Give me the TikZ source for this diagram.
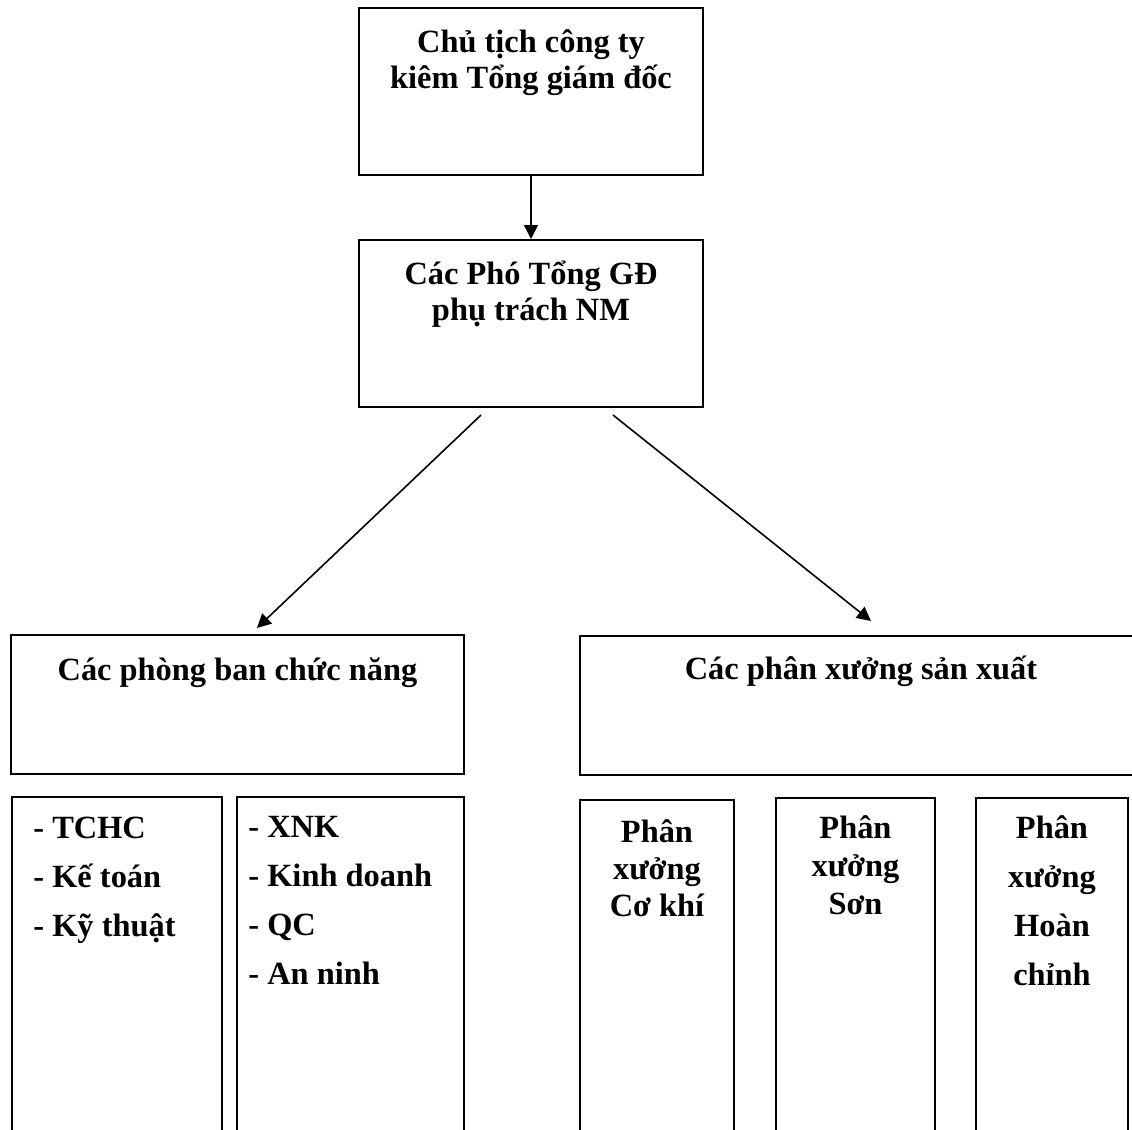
\documentclass[tikz,border=0pt]{standalone}
\usepackage{fontspec}
\setmainfont{Liberation Serif}
\usetikzlibrary{arrows.meta}
\tikzset{
	% ---- default
	every node/.style={font=\fontsize{16.2}{18}\selectfont\bfseries},
	% ---- custom
	box/.style={draw, line width=1pt, anchor=north west, inner sep=0pt},
	title/.style={align=center, anchor=base, inner sep=0pt},
	item/.style={anchor=base west, inner sep=0pt},
	link/.style={-{Triangle[length=7pt, width=7pt]}, line width=0.8pt},
}

\begin{document}
\begin{tikzpicture}[x=0.5pt, y=-0.5pt]

% frame %{{{2

	\useasboundingbox (0,0) rectangle (1132,1130);
	\clip (0,0) rectangle (1132,1130);

% boxes %{{{2

	\node[box, minimum width=172pt, minimum height=83.5pt] (chu) at (358,7) {};
	\node[box, minimum width=172pt, minimum height=83.5pt] (pho) at (358,239) {};

	\node[box, minimum width=226.5pt, minimum height=69.5pt] (phong) at (10,634) {};
	\node[box, minimum width=281pt, minimum height=69.5pt] (xuong) at (579,635) {};

% columns %{{{3

	\node[box, minimum width=105pt, minimum height=180pt] (ban1) at (11,796) {};
	\node[box, minimum width=113.5pt, minimum height=180pt] (ban2) at (236,796) {};

	\node[box, minimum width=77pt, minimum height=180pt] (px1) at (579,799) {};
	\node[box, minimum width=79.5pt, minimum height=180pt] (px2) at (775,797) {};
	\node[box, minimum width=76pt, minimum height=180pt] (px3) at (975,797) {};

% box labels (base = last line) %{{{2

	\node[title] (chu-t) at ([yshift=-40.5pt]chu.north) {Chủ tịch công ty\\kiêm Tổng giám đốc};
	\node[title] (pho-t) at ([yshift=-40.5pt]pho.north) {Các Phó Tổng GĐ\\phụ trách NM};

	\node[title] (phong-t) at ([yshift=-23pt]phong.north) {Các phòng ban chức năng};
	\node[title] (xuong-t) at ([yshift=-22pt]xuong.north) {Các phân xưởng sản xuất};

% column labels %{{{3

	\foreach \t [count=\i] in {TCHC, Kế toán, Kỹ thuật}
		\node[item] (ban1-\i) at ([xshift=11pt, yshift={-21pt-24.5pt*(\i-1)}]ban1.north west) {- \t};

	\foreach \t [count=\i] in {XNK, Kinh doanh, QC, An ninh}
		\node[item] (ban2-\i) at ([xshift=6pt, yshift={-20.5pt-24.5pt*(\i-1)}]ban2.north west) {- \t};

	\node[title, font=\fontsize{16.2}{18.5}\selectfont\bfseries] (px1-t) at ([yshift=-58.5pt]px1.north) {Phân\\xưởng\\Cơ khí};
	\node[title, font=\fontsize{16.2}{19}\selectfont\bfseries] (px2-t) at ([yshift=-58.5pt]px2.north) {Phân\\xưởng\\Sơn};
	\node[title, font=\fontsize{16.2}{24.5}\selectfont\bfseries] (px3-t) at ([yshift=-94pt]px3.north) {Phân\\xưởng\\Hoàn\\chỉnh};

% arrows %{{{2

	\draw[link] (chu.south) -- (pho.north);
	\draw[link] ([xshift=-25pt, yshift=-3.5pt]pho.south) -- ([xshift=9.75pt, yshift=3pt]phong.north);
	\draw[link] ([xshift=41pt, yshift=-3.5pt]pho.south) -- ([xshift=5pt, yshift=7pt]xuong.north);

% closing %{{{2

\end{tikzpicture}
\end{document}
